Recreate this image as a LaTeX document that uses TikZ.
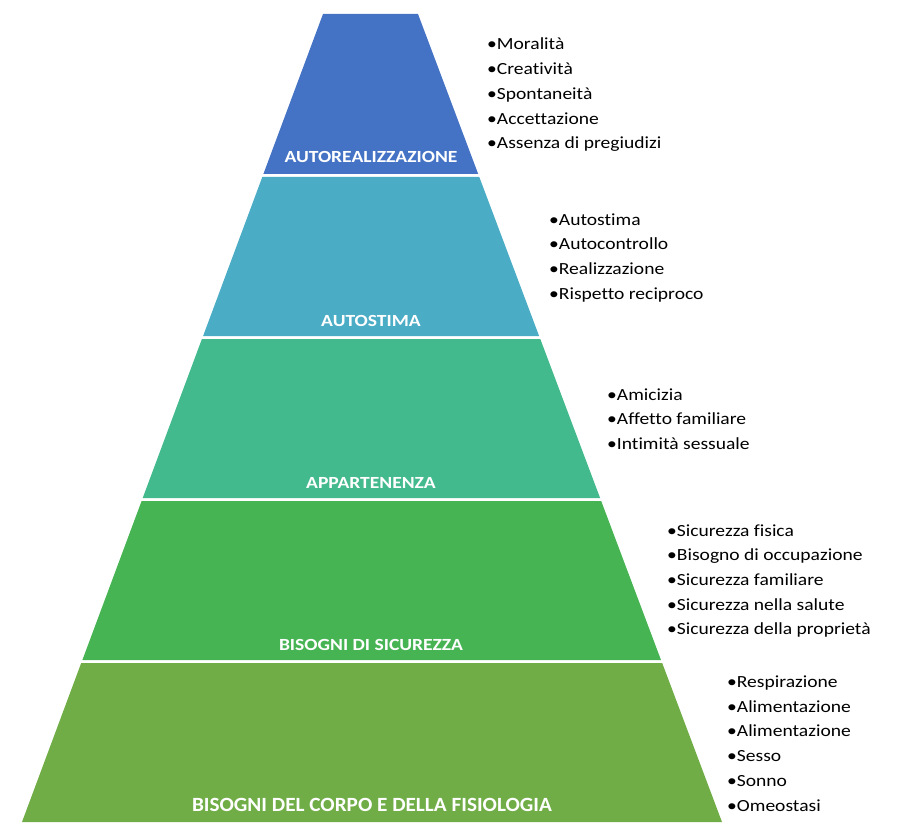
\documentclass[tikz,border=0pt]{standalone}
\usepackage{fontspec}
\setmainfont{Carlito}[Ligatures=NoCommon]
\newfontfamily\wide[FakeStretch=1.15,Ligatures=NoCommon]{Carlito}
\newfontfamily\wideb[FakeStretch=1.05,Ligatures=NoCommon]{Carlito}
\definecolor{c1}{HTML}{4472C4}
\definecolor{c2}{HTML}{4BACC6}
\definecolor{c3}{HTML}{43BA8D}
\definecolor{c4}{HTML}{47B454}
\definecolor{c5}{HTML}{70AD47}
\tikzset{
  lvl/.style={text=white,font=\wide\fontsize{17}{20}\selectfont\bfseries,anchor=base,inner sep=0pt},
  lst/.style={anchor=base west,align=left,inner sep=0pt,font=\wide\fontsize{17}{24.7}\selectfont},
}
\begin{document}
\begin{tikzpicture}[x=1pt,y=-1pt]
\useasboundingbox (0,0) rectangle (900,832);
\fill[c1] (323,14) -- (418,14) -- (478.2,174) -- (263.4,174) -- cycle;
\fill[c2] (262.3,177) -- (479.3,177) -- (539.1,336) -- (203.1,336) -- cycle;
\fill[c3] (201.9,339) -- (540.3,339) -- (600.1,498) -- (142.7,498) -- cycle;
\fill[c4] (141.6,501) -- (601.2,501) -- (661,660) -- (82.4,660) -- cycle;
\fill[c5] (81.2,663) -- (662.2,663) -- (722,822) -- (22,822) -- cycle;
\node[lvl] (l1) at (371,163) {AUTOREALIZZAZIONE};
\node[lvl] (l2) at (371,326) {AUTOSTIMA};
\node[lvl] (l3) at (371,488) {APPARTENENZA};
\node[lvl] (l4) at (371,650) {BISOGNI DI SICUREZZA};
\node[lvl,font=\wideb\fontsize{20.2}{22}\selectfont\bfseries] (l5) at (372,811) {BISOGNI DEL CORPO E DELLA FISIOLOGIA};
\node[lst] (t1) at (487,148.8) {•Moralità\\•Creatività\\•Spontaneità\\•Accettazione\\•Assenza di pregiudizi};
\node[lst] (t2) at (549,299.1) {•Autostima\\•Autocontrollo\\•Realizzazione\\•Rispetto reciproco};
\node[lst] (t3) at (607,449.4) {•Amicizia\\•Affetto familiare\\•Intimità sessuale};
\node[lst] (t4) at (667,634.8) {•Sicurezza fisica\\•Bisogno di occupazione\\•Sicurezza familiare\\•Sicurezza nella salute\\•Sicurezza della proprietà};
\node[lst] (t5) at (727,811) {•Respirazione\\•Alimentazione\\•Alimentazione\\•Sesso\\•Sonno\\•Omeostasi};
\end{tikzpicture}
\end{document}
